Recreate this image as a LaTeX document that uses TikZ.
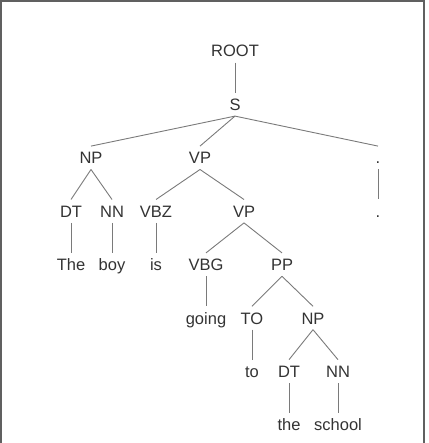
\documentclass[tikz,border=0pt]{standalone}
\usepackage{fontspec}
\setmainfont{Liberation Sans}
\definecolor{txt}{HTML}{333333}
\definecolor{edge}{HTML}{7A7A7A}
\definecolor{frame}{HTML}{606060}
\begin{document}
\begin{tikzpicture}[x=1pt,y=1pt,
  lbl/.style={anchor=base,text=txt,font=\fontsize{16.5}{20}\selectfont,
    text height=15pt,text depth=3pt,inner xsep=2pt,inner ysep=2.5pt},
  br/.style={draw=edge,line width=0.9pt}]
\useasboundingbox (0,0) rectangle (428,-443);
\draw[frame,line width=1.5pt] (1,-443) -- (1,-1) -- (424,-1) -- (424,-443);
% rows (baselines)
\node[lbl] (root) at (235,-57) {ROOT};
\node[lbl] (s) at (235,-110.4) {S};
\node[lbl] (np) at (91,-163.8) {NP};
\node[lbl] (vp) at (200,-163.8) {VP};
\node[lbl] (dot1) at (378,-163.8) {.};
\node[lbl] (dt) at (71,-217.2) {DT};
\node[lbl] (nn) at (112,-217.2) {NN};
\node[lbl] (vbz) at (156,-217.2) {VBZ};
\node[lbl] (vp2) at (244,-217.2) {VP};
\node[lbl] (dot2) at (378,-217.2) {.};
\node[lbl] (the) at (71,-270.6) {The};
\node[lbl] (boy) at (112,-270.6) {boy};
\node[lbl] (is) at (156,-270.6) {is};
\node[lbl] (vbg) at (206,-270.6) {VBG};
\node[lbl] (pp) at (282,-270.6) {PP};
\node[lbl] (going) at (206,-324) {going};
\node[lbl] (to) at (252,-324) {TO};
\node[lbl] (np2) at (313,-324) {NP};
\node[lbl] (tow) at (252,-377.4) {to};
\node[lbl] (dt2) at (289,-377.4) {DT};
\node[lbl] (nn2) at (338,-377.4) {NN};
\node[lbl] (thew) at (289,-430.8) {the};
\node[lbl] (school) at (338,-430.8) {school};
% branches
\draw[br] (root.south) -- (s.north);
\draw[br] (s.south) -- (np.north);
\draw[br] (s.south) -- (vp.north);
\draw[br] (s.south) -- (dot1.north);
\draw[br] (np.south) -- (dt.north);
\draw[br] (np.south) -- (nn.north);
\draw[br] (vp.south) -- (vbz.north);
\draw[br] (vp.south) -- (vp2.north);
\draw[br] (dot1.south) -- (dot2.north);
\draw[br] (dt.south) -- (the.north);
\draw[br] (nn.south) -- (boy.north);
\draw[br] (vbz.south) -- (is.north);
\draw[br] (vp2.south) -- (vbg.north);
\draw[br] (vp2.south) -- (pp.north);
\draw[br] (vbg.south) -- (going.north);
\draw[br] (pp.south) -- (to.north);
\draw[br] (pp.south) -- (np2.north);
\draw[br] (to.south) -- (tow.north);
\draw[br] (np2.south) -- (dt2.north);
\draw[br] (np2.south) -- (nn2.north);
\draw[br] (dt2.south) -- (thew.north);
\draw[br] (nn2.south) -- (school.north);
\end{tikzpicture}
\end{document}
